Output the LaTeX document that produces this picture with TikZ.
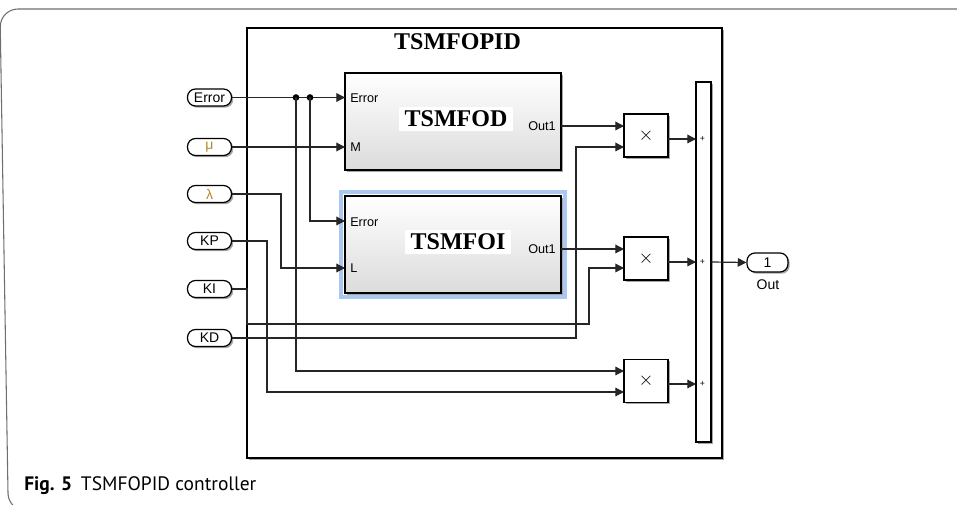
\documentclass[tikz,border=0pt]{standalone}
\usepackage{fontspec}
\setmainfont{Liberation Serif}
\setsansfont{Liberation Sans}
\newfontfamily\capfont{PT Sans}
\usetikzlibrary{arrows.meta,shadows}
\definecolor{hilite}{RGB}{170,200,240}
\definecolor{greek}{RGB}{185,135,40}
\definecolor{frameg}{RGB}{110,110,110}
\begin{document}
\begin{tikzpicture}[x=0.75pt,y=-0.75pt,
  wire/.style={line width=0.9pt,black!85},
  arr/.style={wire,-{Triangle[length=6.5pt,width=6.5pt]}},
  shad/.style={drop shadow={shadow xshift=1.3pt,shadow yshift=-1.3pt,fill=black,opacity=0.35}},
  port/.style={draw,line width=0.9pt,rounded corners=6pt,fill=white,shad,
    minimum width=33pt,minimum height=12.75pt,inner sep=0pt,
    font=\sffamily\fontsize{10.5}{11}\selectfont},
  subsys/.style={draw,line width=1pt,top color=white,bottom color=gray!28,shad,
    minimum width=162pt,minimum height=72.75pt,inner sep=0pt},
  prod/.style={draw,line width=0.9pt,fill=white,shad,minimum width=33pt,minimum height=32.25pt,
    inner sep=0pt,font=\fontsize{14}{14}\selectfont},
  plbl/.style={font=\sffamily\fontsize{9.5}{10}\selectfont,inner sep=0pt},
  title/.style={font=\bfseries\fontsize{18}{20}\selectfont,inner sep=2pt},
  dot/.style={circle,fill=black,inner sep=0pt,minimum size=5pt}
]
\useasboundingbox (0,0) rectangle (957,505);
% outer figure frame
\draw[frameg,line width=0.8pt] (957,9) -- (18,9) arc[start angle=90,end angle=180,radius=13.3pt] -- (8,493)
  arc[start angle=180,end angle=270,radius=13.3pt];
% caption
\node[anchor=base west,inner sep=0pt,font=\capfont\fontsize{14.6}{16}\selectfont] (cap) at (24,491)
  {\textbf{Fig. 5}\hspace{0.45em}TSMFOPID controller};

% subsystem frame
\node[draw,line width=1.1pt,minimum width=356.25pt,minimum height=322.5pt,inner sep=0pt,shad,fill=white]
  (F) at (484.5,243) {};
\node[title] (T) at (457.5,42) {TSMFOPID};

% subsystems
\draw[hilite,line width=3pt] (341,192) rectangle (565,297);
\node[subsys] (D) at (453,121.5) {};
\node[subsys] (I) at (453,244.5) {};
\node[title,fill=white,inner xsep=4pt,inner ysep=3pt] (DL) at (456,119) {TSMFOD};
\node[title,fill=white,inner xsep=4pt,inner ysep=3pt] (IL) at (458,242) {TSMFOI};
\node[plbl,anchor=west] (DE) at (350,98) {Error};
\node[plbl,anchor=west] (DM) at (350,147) {M};
\node[plbl,anchor=east] (DO) at (556,126) {Out1};
\node[plbl,anchor=west] (IE) at (350,222) {Error};
\node[plbl,anchor=west] (ILb) at (350,268) {L};
\node[plbl,anchor=east] (IO) at (556,249) {Out1};

% products
\node[prod] (m1) at (646,135.5) {$\times$};
\node[prod] (m2) at (646,258.5) {$\times$};
\node[prod] (m3) at (646,381) {$\times$};

% sum
\node[draw,line width=0.9pt,fill=white,shad,minimum width=11.25pt,minimum height=270pt,inner sep=0pt] (S) at (703.5,262) {};
\foreach \yy in {139,262,384} \node[font=\sffamily\fontsize{6.5}{6.5}\selectfont,inner sep=0pt] at (702.5,\yy) {+};

% ports
\node[port] (pErr) at (209.5,97.5) {Error};
\node[port,text=greek] (pMu) at (209.5,147) {μ};
\node[port,text=greek] (pLam) at (209.5,194) {λ};
\node[port] (pKP) at (209.5,241) {KP};
\node[port] (pKI) at (209.5,289) {KI};
\node[port] (pKD) at (209.5,338) {KD};
\node[port,minimum width=30.75pt,minimum height=14.25pt] (pOut) at (767.5,262.5) {1};
\node[plbl,font=\sffamily\fontsize{10.5}{11}\selectfont] (OutL) at (768,285) {Out};

% connection points
\coordinate (dE) at (345,97.5);
\coordinate (dM) at (345,147);
\coordinate (dO) at (561,126);
\coordinate (iE) at (345,221);
\coordinate (iL) at (345,268);
\coordinate (iO) at (561,249);
\coordinate (m1a) at (624,126);
\coordinate (m1b) at (624,147);
\coordinate (m1o) at (668,139);
\coordinate (m2a) at (624,249);
\coordinate (m2b) at (624,268);
\coordinate (m2o) at (668,262);
\coordinate (m3a) at (624,371);
\coordinate (m3b) at (624,392);
\coordinate (m3o) at (668,384);
\coordinate (s1) at (696,139);
\coordinate (s2) at (696,262);
\coordinate (s3) at (696,384);
\coordinate (so) at (711,262);
\coordinate (j1) at (296,97.5);
\coordinate (j2) at (310,97.5);

% wires
\draw[arr] (pErr.east) -- (dE);
\node[dot] at (j1) {};
\node[dot] at (j2) {};
\draw[arr] (j2) |- (iE);
\draw[arr] (j1) |- (m3a);
\draw[arr] (pMu.east) -- (dM);
\draw[arr] (pLam.east) -- (281,194) -- (281,268) -- (iL);
\draw[arr] (pKP.east) -- (267,241) -- (267,392) -- (m3b);
\draw[arr] (pKI.east) -- (247,289) -- (247,324) -- (589,324) -- (589,268) -- (m2b);
\draw[arr] (pKD.east) -- (576,338) -- (576,147) -- (m1b);
\draw[arr] (dO) -- (m1a);
\draw[arr] (iO) -- (m2a);
\draw[arr] (m1o) -- (s1);
\draw[arr] (m2o) -- (s2);
\draw[arr] (m3o) -- (s3);
\draw[arr] (so) -- (pOut.west);
\end{tikzpicture}
\end{document}
